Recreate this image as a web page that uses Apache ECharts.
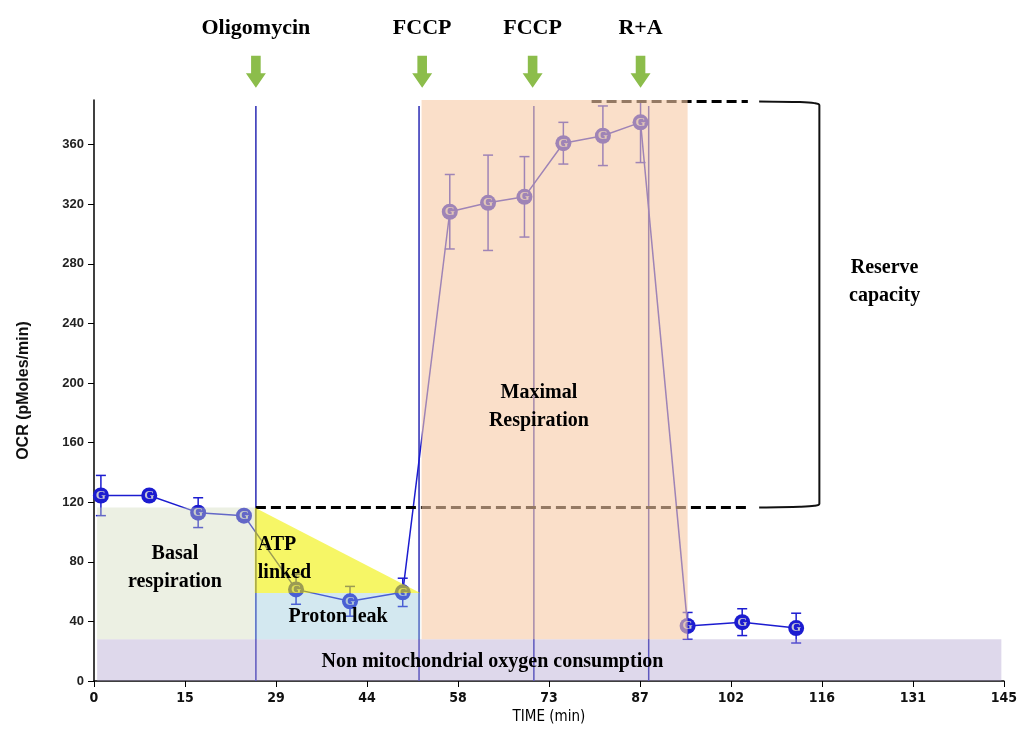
<!DOCTYPE html>
<html>
<head>
<meta charset="utf-8">
<script src="https://cdn.jsdelivr.net/npm/echarts@6/dist/echarts.min.js"></script>
<style>
  html, body { margin: 0; padding: 0; background: #fff; }
  #main { width: 1020px; height: 734px; }
</style>
</head>
<body>
<div id="main"></div>
<script>
// measured OCR trace (time in min, OCR in pMoles/min, +/- error)
const times = [1.1, 8.8, 16.6, 23.9, 32.2, 40.8, 49.2, 56.7, 62.8, 68.6, 74.8, 81.1, 87.1, 94.6, 103.3, 111.9];
const ocr = [124.5, 124.5, 113, 111, 61.5, 53.5, 59.5, 315, 321, 325, 361, 366, 375, 37, 39.5, 35.5];
const err = [13.5, 3, 10, 3, 10, 10, 9.5, 25, 32, 27, 14, 20, 27, 9, 9, 10];

// injections
const injectNames = ["Oligomycin", "FCCP", "FCCP", "R+A"];
const injectTimes = [25.8, 51.8, 70.1, 88.4];
const arrowTimes = [25.8, 52.3, 69.9, 87.1];

// shaded zones, in axis units
const nonMitoZone = [[0.5, 0], [144.6, 0], [144.6, 28], [0.5, 28]];
const basalZone = [[0.5, 28], [25.6, 28], [25.6, 116.5], [0.5, 116.5]];
const leakZone = [[25.6, 28], [52, 28], [52, 59], [25.6, 59]];
const atpZone = [[25.6, 59], [52, 59], [25.6, 116.5]];
const maxZone = [[52.2, 28], [94.6, 28], [94.6, 390], [52.2, 390]];

// reserve capacity markers
const basalLine = [[25.8, 116.5], [104.2, 116.5]];
const maxLine = [[79.3, 389], [104.2, 389]];
const bracket = [[106, 389], [112.5, 388.6], [114.8, 387.9], [115.6, 386.5], [115.6, 119], [114.8, 117.6], [112.5, 117], [106, 116.5]];

const labelText = ["Basal\nrespiration", "ATP\nlinked", "Proton leak", "Non mitochondrial oxygen consumption", "Maximal\nRespiration", "Reserve\ncapacity"];
const labelPos = [[12.9, 76], [26.1, 82], [38.9, 43], [63.5, 13], [70.9, 184], [126, 268]];
const labelAlign = ["center", "left", "center", "center", "center", "center"];

const zones = [nonMitoZone, basalZone, leakZone, atpZone, maxZone];
const zoneColors = ["rgb(172,158,204)", "rgb(208,218,184)", "rgb(144,198,218)", "rgb(240,240,0)", "rgb(247,201,165)"];
const zoneAlpha = [0.4, 0.4, 0.4, 0.6, 0.6];

const BLUE = "#1c1cd0";
const SERIF = "'Liberation Serif', 'Times New Roman', serif";
const NARROW = "'DejaVu Sans Condensed', 'Liberation Sans Narrow', 'Liberation Sans', Arial";

const chart = echarts.init(document.getElementById("main"));

chart.setOption({
  animation: false,
  grid: { left: 94, right: 15, top: 100, bottom: 53 },
  xAxis: {
    type: "value",
    min: 0,
    max: 145,
    interval: 14.5,
    name: "TIME (min)",
    nameLocation: "middle",
    nameGap: 28,
    nameTextStyle: { fontFamily: NARROW, fontSize: 15, color: "#000" },
    axisLine: { lineStyle: { color: "#000", width: 1.5 } },
    axisTick: { length: 6, lineStyle: { color: "#000" } },
    splitLine: { show: false },
    axisLabel: {
      formatter: v => Math.round(v),
      fontFamily: NARROW,
      fontWeight: "bold",
      fontSize: 14,
      color: "#111",
      margin: 10
    }
  },
  yAxis: {
    type: "value",
    min: 0,
    max: 390,
    interval: 40,
    name: "OCR (pMoles/min)",
    nameLocation: "middle",
    nameGap: 62,
    nameTextStyle: { fontFamily: "'Liberation Sans', Arial", fontWeight: "bold", fontSize: 16, color: "#111" },
    axisLine: { show: true, lineStyle: { color: "#000", width: 1.5 } },
    axisTick: { show: true, length: 6, lineStyle: { color: "#000" } },
    splitLine: { show: false },
    axisLabel: {
      showMaxLabel: false,
      fontFamily: "'Liberation Sans', Arial",
      fontWeight: "bold",
      fontSize: 13,
      color: "#222",
      margin: 10
    }
  },
  series: [
    {
      // injection lines
      type: "custom",
      z: 2,
      data: injectTimes.map(t => [t]),
      renderItem: (params, api) => {
        const a = api.coord([api.value(0), 0]);
        const b = api.coord([api.value(0), 386]);
        return { type: "line", shape: { x1: a[0], y1: a[1], x2: b[0], y2: b[1] }, style: { stroke: "#2a2ab4", lineWidth: 1.5 } };
      }
    },
    {
      // error bars
      type: "custom",
      z: 2,
      data: times.map((t, i) => [t, ocr[i], err[i]]),
      renderItem: (params, api) => {
        const x = api.value(0), y = api.value(1), e = api.value(2);
        const top = api.coord([x, y + e]);
        const bot = api.coord([x, y - e]);
        const hw = 5;
        return {
          type: "group",
          children: [
            { type: "line", shape: { x1: top[0], y1: top[1], x2: bot[0], y2: bot[1] }, style: { stroke: BLUE, lineWidth: 1.5 } },
            { type: "line", shape: { x1: top[0] - hw, y1: top[1], x2: top[0] + hw, y2: top[1] }, style: { stroke: BLUE, lineWidth: 1.5 } },
            { type: "line", shape: { x1: bot[0] - hw, y1: bot[1], x2: bot[0] + hw, y2: bot[1] }, style: { stroke: BLUE, lineWidth: 1.5 } }
          ]
        };
      },
      clip: true
    },
    {
      type: "line",
      z: 3,
      data: times.map((t, i) => [t, ocr[i]]),
      symbol: "circle",
      symbolSize: 16,
      lineStyle: { color: BLUE, width: 1.5 },
      itemStyle: { color: BLUE },
      label: {
        show: true,
        position: "inside",
        formatter: "G",
        fontFamily: SERIF,
        fontWeight: "bold",
        fontSize: 13,
        color: "#c4c4d4"
      }
    },
    {
      type: "line",
      z: 3,
      data: basalLine,
      symbol: "none",
      lineStyle: { color: "#000", width: 3, type: [10, 5] }
    },
    {
      type: "line",
      z: 3,
      data: maxLine,
      symbol: "none",
      lineStyle: { color: "#000", width: 3, type: [10, 5] }
    },
    {
      type: "line",
      z: 3,
      data: bracket,
      symbol: "none",
      smooth: 0.3,
      lineStyle: { color: "#111", width: 2 }
    },
    {
      // shaded zones laid over the trace
      type: "custom",
      z: 5,
      data: zones.map((z, i) => [i]),
      renderItem: (params, api) => {
        const i = api.value(0);
        return {
          type: "polygon",
          shape: { points: zones[i].map(p => api.coord(p)) },
          style: { fill: zoneColors[i], opacity: zoneAlpha[i] }
        };
      }
    },
    {
      // text annotations
      type: "custom",
      z: 8,
      data: labelPos.map((p, i) => [p[0], p[1], i]),
      renderItem: (params, api) => {
        const i = api.value(2);
        const pt = api.coord([api.value(0), api.value(1)]);
        return {
          type: "text",
          x: pt[0],
          y: pt[1],
          style: {
            text: labelText[i],
            fill: "#000",
            font: "bold 20px " + SERIF,
            align: labelAlign[i],
            verticalAlign: "middle",
            lineHeight: 28
          }
        };
      }
    },
    {
      // injection arrows and names above the plot
      type: "scatter",
      z: 8,
      clip: false,
      data: arrowTimes.map((t, i) => ({ value: [t, 409], name: injectNames[i] })),
      symbol: "path://M2.6,0 L7.4,0 L7.4,12 L10,12 L5,22 L0,12 L2.6,12 Z",
      symbolSize: [20, 32],
      itemStyle: { color: "#8cbd4b", opacity: 1 },
      label: {
        show: true,
        position: "top",
        distance: 16,
        formatter: p => p.name,
        fontFamily: SERIF,
        fontWeight: "bold",
        fontSize: 22,
        color: "#000"
      }
    }
  ]
});
</script>
</body>
</html>
